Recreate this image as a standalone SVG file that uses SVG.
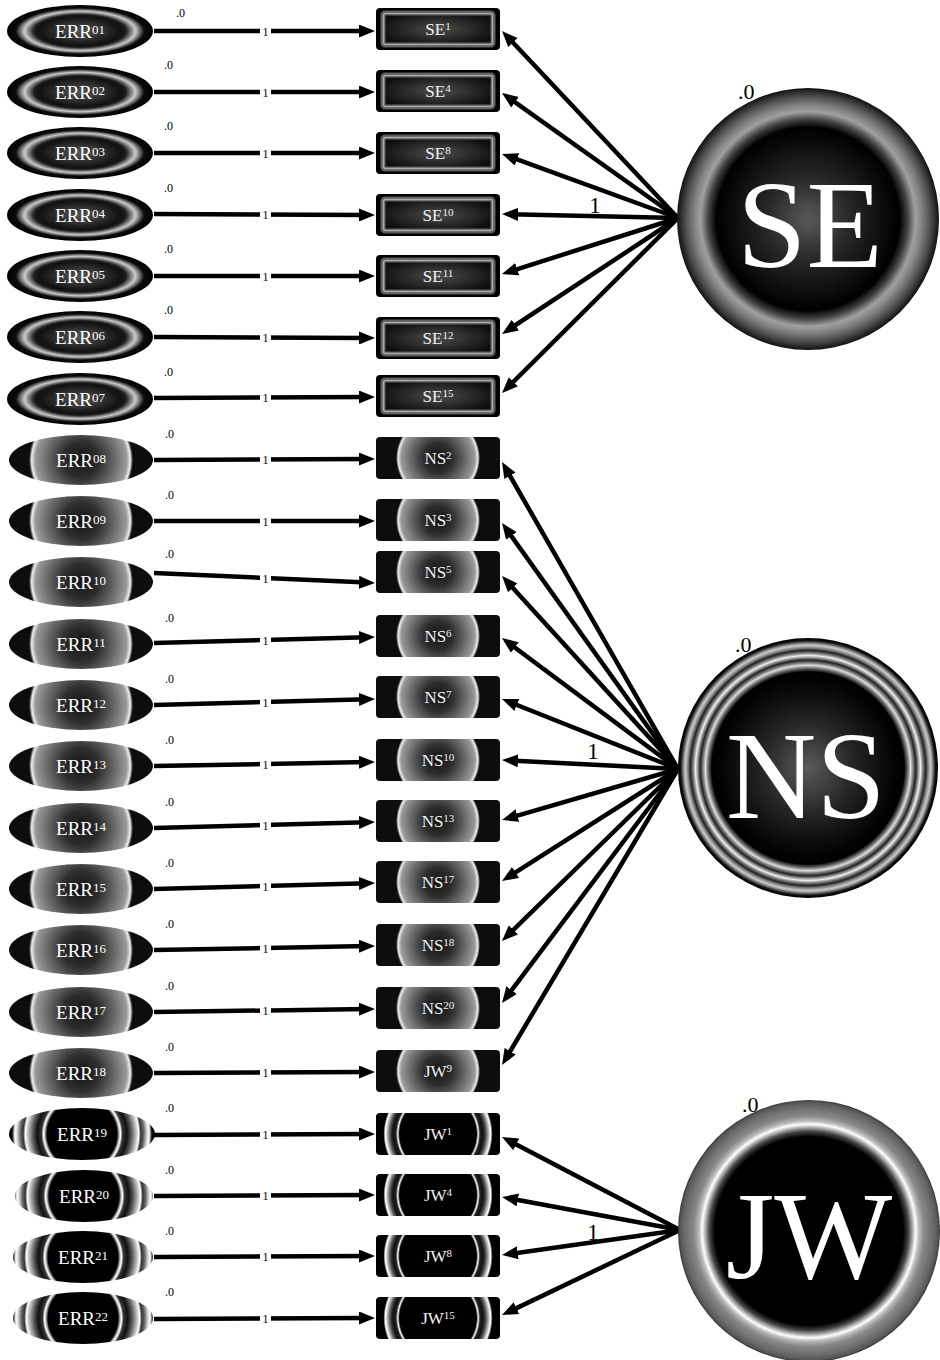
<svg xmlns="http://www.w3.org/2000/svg" xmlns:xlink="http://www.w3.org/1999/xlink" width="940" height="1360" viewBox="0 0 940 1360">
  <style>
    text { font-family: "Liberation Serif", "Times New Roman", serif; }
    .err { font-size: 19px; fill: #ffffff; text-anchor: middle; }
    .lbl { font-size: 17px; fill: #f2f2f2; text-anchor: middle; }
    .sup { font-size: 13px; }
    .sup2 { font-size: 11px; }
    .mean { font-size: 12px; fill: #000; }
    .bigmean { font-size: 22px; fill: #000; }
    .latent { font-size: 125px; fill: #ffffff; text-anchor: middle; }
    .path { fill: none; stroke: #000; stroke-width: 4.5; marker-end: url(#arrow); }
    .gap { fill: #ffffff; }
    .one { font-size: 13px; fill: #111; text-anchor: middle; }
    .bigone { font-size: 23px; fill: #000; text-anchor: middle; }
  </style>
  <defs>
    <marker id="arrow" viewBox="0 0 16 13" refX="8" refY="6.5" markerWidth="16" markerHeight="13" markerUnits="userSpaceOnUse" orient="auto">
      <path d="M0,0 L16,6.5 L0,13 z" fill="#000"/>
    </marker>

    <!-- SE indicators: elliptical ring -->
    <radialGradient id="gErrSE" cx="0.5" cy="0.5" r="0.5">
      <stop offset="0" stop-color="#555"/>
      <stop offset="0.3" stop-color="#333"/>
      <stop offset="0.56" stop-color="#111"/>
      <stop offset="0.63" stop-color="#1c1c1c"/>
      <stop offset="0.71" stop-color="#8a8a8a"/>
      <stop offset="0.76" stop-color="#cacaca"/>
      <stop offset="0.82" stop-color="#707070"/>
      <stop offset="0.88" stop-color="#0c0c0c"/>
      <stop offset="1" stop-color="#000"/>
    </radialGradient>
    <radialGradient id="gBoxSE" cx="0.5" cy="0.5" r="0.55">
      <stop offset="0" stop-color="#4c4c4c"/>
      <stop offset="1" stop-color="#0e0e0e"/>
    </radialGradient>

    <!-- NS indicators: round lens -->
    <radialGradient id="gErrNS" gradientUnits="userSpaceOnUse" cx="0" cy="0" r="52">
      <stop offset="0" stop-color="#141414"/>
      <stop offset="0.35" stop-color="#2e2e2e"/>
      <stop offset="0.65" stop-color="#6a6a6a"/>
      <stop offset="0.88" stop-color="#9a9a9a"/>
      <stop offset="0.95" stop-color="#eeeeee"/>
      <stop offset="0.975" stop-color="#777"/>
      <stop offset="1" stop-color="#0d0d0d"/>
    </radialGradient>
    <radialGradient id="gBoxNS" gradientUnits="userSpaceOnUse" cx="0" cy="0" r="42">
      <stop offset="0" stop-color="#141414"/>
      <stop offset="0.35" stop-color="#2e2e2e"/>
      <stop offset="0.65" stop-color="#6a6a6a"/>
      <stop offset="0.88" stop-color="#9a9a9a"/>
      <stop offset="0.95" stop-color="#eeeeee"/>
      <stop offset="0.975" stop-color="#777"/>
      <stop offset="1" stop-color="#0d0d0d"/>
    </radialGradient>

    <!-- JW indicators: concentric rings -->
    <radialGradient id="gErrJW" gradientUnits="userSpaceOnUse" cx="0" cy="0" r="70">
      <stop offset="0" stop-color="#000"/>
      <stop offset="0.5" stop-color="#000"/>
      <stop offset="0.53" stop-color="#bbb"/>
      <stop offset="0.55" stop-color="#fff"/>
      <stop offset="0.58" stop-color="#333"/>
      <stop offset="0.64" stop-color="#111"/>
      <stop offset="0.7" stop-color="#555"/>
      <stop offset="0.78" stop-color="#ccc"/>
      <stop offset="0.81" stop-color="#fff"/>
      <stop offset="0.84" stop-color="#333"/>
      <stop offset="0.88" stop-color="#666"/>
      <stop offset="0.93" stop-color="#ddd"/>
      <stop offset="0.96" stop-color="#fff"/>
      <stop offset="1" stop-color="#000"/>
    </radialGradient>
    <radialGradient id="gBoxJW" gradientUnits="userSpaceOnUse" cx="0" cy="0" r="60">
      <stop offset="0" stop-color="#000"/>
      <stop offset="0.64" stop-color="#000"/>
      <stop offset="0.67" stop-color="#fff"/>
      <stop offset="0.7" stop-color="#222"/>
      <stop offset="0.75" stop-color="#111"/>
      <stop offset="0.8" stop-color="#555"/>
      <stop offset="0.86" stop-color="#ddd"/>
      <stop offset="0.88" stop-color="#fff"/>
      <stop offset="0.91" stop-color="#000"/>
      <stop offset="1" stop-color="#000"/>
    </radialGradient>

    <!-- latent factors -->
    <radialGradient id="gSE" cx="0.5" cy="0.5" r="0.5">
      <stop offset="0" stop-color="#5a5a5a"/>
      <stop offset="0.3" stop-color="#2a2a2a"/>
      <stop offset="0.6" stop-color="#0a0a0a"/>
      <stop offset="0.7" stop-color="#000"/>
      <stop offset="0.76" stop-color="#404040"/>
      <stop offset="0.82" stop-color="#a0a0a0"/>
      <stop offset="0.87" stop-color="#828282"/>
      <stop offset="0.94" stop-color="#4a4a4a"/>
      <stop offset="1" stop-color="#111"/>
    </radialGradient>
    <radialGradient id="gNS" cx="0.5" cy="0.5" r="0.5">
      <stop offset="0" stop-color="#5a5a5a"/>
      <stop offset="0.35" stop-color="#262626"/>
      <stop offset="0.65" stop-color="#050505"/>
      <stop offset="0.74" stop-color="#000"/>
      <stop offset="0.77" stop-color="#777"/>
      <stop offset="0.79" stop-color="#ddd"/>
      <stop offset="0.81" stop-color="#777"/>
      <stop offset="0.83" stop-color="#222"/>
      <stop offset="0.85" stop-color="#999"/>
      <stop offset="0.865" stop-color="#eee"/>
      <stop offset="0.885" stop-color="#777"/>
      <stop offset="0.905" stop-color="#222"/>
      <stop offset="0.925" stop-color="#888"/>
      <stop offset="0.945" stop-color="#ccc"/>
      <stop offset="0.965" stop-color="#666"/>
      <stop offset="0.98" stop-color="#111"/>
      <stop offset="1" stop-color="#000"/>
    </radialGradient>
    <radialGradient id="gJW" cx="0.5" cy="0.5" r="0.5">
      <stop offset="0" stop-color="#000"/>
      <stop offset="0.72" stop-color="#000"/>
      <stop offset="0.76" stop-color="#444"/>
      <stop offset="0.8" stop-color="#ccc"/>
      <stop offset="0.815" stop-color="#fff"/>
      <stop offset="0.84" stop-color="#bbb"/>
      <stop offset="0.88" stop-color="#888"/>
      <stop offset="0.95" stop-color="#6a6a6a"/>
      <stop offset="0.985" stop-color="#555"/>
      <stop offset="1" stop-color="#333"/>
    </radialGradient>

    <!-- reusable node bodies, drawn around (0,0) -->
    <ellipse id="errSE" rx="73" ry="26" fill="url(#gErrSE)"/>
    <ellipse id="errNS" rx="72" ry="25" fill="url(#gErrNS)"/>
    <g id="boxSE">
      <rect x="-62" y="-21" width="124" height="42" rx="4" fill="#000"/>
      <rect x="-55" y="-16" width="110" height="32" rx="2" fill="url(#gBoxSE)" stroke="#5e5e5e" stroke-width="5"/>
      <rect x="-54.5" y="-15.5" width="109" height="31" rx="2" fill="none" stroke="#a8a8a8" stroke-width="1.6"/>
    </g>
    <rect id="boxNS" x="-62" y="-21" width="124" height="42" rx="4" fill="url(#gBoxNS)"/>
    <rect id="boxJW" x="-62" y="-21" width="124" height="42" rx="4" fill="url(#gBoxJW)"/>
  </defs>

  <rect width="940" height="1360" fill="#ffffff"/>

  <!-- paths: error terms to indicators, factors to indicators -->
  <g id="connectors">
    <path class="path" d="M154,31 L367,31"/>
    <path class="path" d="M154,92 L367,92"/>
    <path class="path" d="M154,153 L367,153"/>
    <path class="path" d="M154,214 L367,215"/>
    <path class="path" d="M154,276 L367,276"/>
    <path class="path" d="M154,337 L367,338"/>
    <path class="path" d="M154,398 L367,397"/>
    <path class="path" d="M154,460 L367,459"/>
    <path class="path" d="M154,521 L367,521"/>
    <path class="path" d="M154,573 L367,582.6"/>
    <path class="path" d="M154,643 L367,637.2"/>
    <path class="path" d="M154,705 L367,699.2"/>
    <path class="path" d="M154,766 L367,762.1"/>
    <path class="path" d="M154,828 L367,822.2"/>
    <path class="path" d="M154,889 L367,883.2"/>
    <path class="path" d="M154,950 L367,946.1"/>
    <path class="path" d="M154,1012 L367,1009.1"/>
    <path class="path" d="M154,1073 L367,1072"/>
    <path class="path" d="M154,1135 L367,1134"/>
    <path class="path" d="M154,1196 L367,1195"/>
    <path class="path" d="M154,1257 L367,1256"/>
    <path class="path" d="M154,1319 L367,1318"/>

    <g id="fixed-ones">
      <rect class="gap" x="260" y="24" width="11" height="14"/><text class="one" x="265.5" y="35.5">1</text>
      <rect class="gap" x="260" y="85" width="11" height="14"/><text class="one" x="265.5" y="96.5">1</text>
      <rect class="gap" x="260" y="146" width="11" height="14"/><text class="one" x="265.5" y="157.5">1</text>
      <rect class="gap" x="260" y="207.5" width="11" height="14"/><text class="one" x="265.5" y="219">1</text>
      <rect class="gap" x="260" y="269" width="11" height="14"/><text class="one" x="265.5" y="280.5">1</text>
      <rect class="gap" x="260" y="330.5" width="11" height="14"/><text class="one" x="265.5" y="342">1</text>
      <rect class="gap" x="260" y="390.5" width="11" height="14"/><text class="one" x="265.5" y="402">1</text>
      <rect class="gap" x="260" y="452.5" width="11" height="14"/><text class="one" x="265.5" y="464">1</text>
      <rect class="gap" x="260" y="514" width="11" height="14"/><text class="one" x="265.5" y="525.5">1</text>
      <rect class="gap" x="260" y="571" width="11" height="14"/><text class="one" x="265.5" y="582.5">1</text>
      <rect class="gap" x="260" y="633" width="11" height="14"/><text class="one" x="265.5" y="644.5">1</text>
      <rect class="gap" x="260" y="695" width="11" height="14"/><text class="one" x="265.5" y="706.5">1</text>
      <rect class="gap" x="260" y="757" width="11" height="14"/><text class="one" x="265.5" y="768.5">1</text>
      <rect class="gap" x="260" y="818" width="11" height="14"/><text class="one" x="265.5" y="829.5">1</text>
      <rect class="gap" x="260" y="879" width="11" height="14"/><text class="one" x="265.5" y="890.5">1</text>
      <rect class="gap" x="260" y="941" width="11" height="14"/><text class="one" x="265.5" y="952.5">1</text>
      <rect class="gap" x="260" y="1003.5" width="11" height="14"/><text class="one" x="265.5" y="1015">1</text>
      <rect class="gap" x="260" y="1065.5" width="11" height="14"/><text class="one" x="265.5" y="1077">1</text>
      <rect class="gap" x="260" y="1127.5" width="11" height="14"/><text class="one" x="265.5" y="1139">1</text>
      <rect class="gap" x="260" y="1188.5" width="11" height="14"/><text class="one" x="265.5" y="1200">1</text>
      <rect class="gap" x="260" y="1249.5" width="11" height="14"/><text class="one" x="265.5" y="1261">1</text>
      <rect class="gap" x="260" y="1311.5" width="11" height="14"/><text class="one" x="265.5" y="1323">1</text>
    </g>

    <!-- SE loadings -->
    <path class="path" d="M678,218 L507.5,36.8"/>
    <path class="path" d="M678,218 L508.5,97.6"/>
    <path class="path" d="M678,218 L509.5,156.7"/>
    <path class="path" d="M678,218 L510,214.2"/>
    <path class="path" d="M678,218 L509.6,271.6"/>
    <path class="path" d="M678,218 L508.7,329.6"/>
    <path class="path" d="M678,218 L507.7,387.4"/>
    <text class="bigone" x="595" y="213">1</text>

    <!-- NS loadings -->
    <path class="path" d="M678,769 L506,468.9"/>
    <path class="path" d="M678,769 L506.7,529.5"/>
    <path class="path" d="M678,769 L507.4,581.9"/>
    <path class="path" d="M678,769 L508.4,642.8"/>
    <path class="path" d="M678,769 L509.4,702"/>
    <path class="path" d="M678,769 L510,760.4"/>
    <path class="path" d="M678,769 L509.7,817.8"/>
    <path class="path" d="M678,769 L508.8,876.7"/>
    <path class="path" d="M678,769 L507.7,935.4"/>
    <path class="path" d="M678,769 L506.8,996.6"/>
    <path class="path" d="M678,769 L506.1,1058.1"/>
    <text class="bigone" x="593" y="759">1</text>

    <!-- JW loadings -->
    <path class="path" d="M680,1230 L509.1,1140.7"/>
    <path class="path" d="M680,1230 L509.9,1198.5"/>
    <path class="path" d="M680,1230 L509.9,1253.9"/>
    <path class="path" d="M680,1230 L509.2,1311.6"/>
    <text class="bigone" x="593" y="1240">1</text>
  </g>

  <!-- error terms -->
  <g id="ERR01" transform="translate(80,31)"><use href="#errSE"/><text class="err" y="7">ERR<tspan class="sup" dy="-4">01</tspan></text><text class="mean" x="96" y="-14">.0</text></g>
  <g id="ERR02" transform="translate(80,92)"><use href="#errSE"/><text class="err" y="7">ERR<tspan class="sup" dy="-4">02</tspan></text><text class="mean" x="84" y="-23">.0</text></g>
  <g id="ERR03" transform="translate(80,153)"><use href="#errSE"/><text class="err" y="7">ERR<tspan class="sup" dy="-4">03</tspan></text><text class="mean" x="84" y="-23">.0</text></g>
  <g id="ERR04" transform="translate(80,215)"><use href="#errSE"/><text class="err" y="7">ERR<tspan class="sup" dy="-4">04</tspan></text><text class="mean" x="84" y="-23">.0</text></g>
  <g id="ERR05" transform="translate(80,276)"><use href="#errSE"/><text class="err" y="7">ERR<tspan class="sup" dy="-4">05</tspan></text><text class="mean" x="84" y="-23">.0</text></g>
  <g id="ERR06" transform="translate(80,337)"><use href="#errSE"/><text class="err" y="7">ERR<tspan class="sup" dy="-4">06</tspan></text><text class="mean" x="84" y="-23">.0</text></g>
  <g id="ERR07" transform="translate(80,399)"><use href="#errSE"/><text class="err" y="7">ERR<tspan class="sup" dy="-4">07</tspan></text><text class="mean" x="84" y="-23">.0</text></g>

  <g id="ERR08" transform="translate(81,460)"><use href="#errNS"/><text class="err" y="7">ERR<tspan class="sup" dy="-4">08</tspan></text><text class="mean" x="84" y="-22">.0</text></g>
  <g id="ERR09" transform="translate(81,521)"><use href="#errNS"/><text class="err" y="7">ERR<tspan class="sup" dy="-4">09</tspan></text><text class="mean" x="84" y="-22">.0</text></g>
  <g id="ERR10" transform="translate(81,582)"><use href="#errNS"/><text class="err" y="7">ERR<tspan class="sup" dy="-4">10</tspan></text><text class="mean" x="84" y="-24">.0</text></g>
  <g id="ERR11" transform="translate(81,644)"><use href="#errNS"/><text class="err" y="7">ERR<tspan class="sup" dy="-4">11</tspan></text><text class="mean" x="84" y="-22">.0</text></g>
  <g id="ERR12" transform="translate(81,705)"><use href="#errNS"/><text class="err" y="7">ERR<tspan class="sup" dy="-4">12</tspan></text><text class="mean" x="84" y="-22">.0</text></g>
  <g id="ERR13" transform="translate(81,766)"><use href="#errNS"/><text class="err" y="7">ERR<tspan class="sup" dy="-4">13</tspan></text><text class="mean" x="84" y="-22">.0</text></g>
  <g id="ERR14" transform="translate(81,828)"><use href="#errNS"/><text class="err" y="7">ERR<tspan class="sup" dy="-4">14</tspan></text><text class="mean" x="84" y="-22">.0</text></g>
  <g id="ERR15" transform="translate(81,889)"><use href="#errNS"/><text class="err" y="7">ERR<tspan class="sup" dy="-4">15</tspan></text><text class="mean" x="84" y="-22">.0</text></g>
  <g id="ERR16" transform="translate(81,950)"><use href="#errNS"/><text class="err" y="7">ERR<tspan class="sup" dy="-4">16</tspan></text><text class="mean" x="84" y="-22">.0</text></g>
  <g id="ERR17" transform="translate(81,1012)"><use href="#errNS"/><text class="err" y="7">ERR<tspan class="sup" dy="-4">17</tspan></text><text class="mean" x="84" y="-22">.0</text></g>
  <g id="ERR18" transform="translate(81,1073)"><use href="#errNS"/><text class="err" y="7">ERR<tspan class="sup" dy="-4">18</tspan></text><text class="mean" x="84" y="-22">.0</text></g>

  <g id="ERR19" transform="translate(82,1134)"><ellipse rx="73" ry="26" fill="url(#gErrJW)"/><text class="err" y="7">ERR<tspan class="sup" dy="-4">19</tspan></text><text class="mean" x="83" y="-22">.0</text></g>
  <g id="ERR20" transform="translate(84,1196)"><ellipse rx="69" ry="26" fill="url(#gErrJW)"/><text class="err" y="7">ERR<tspan class="sup" dy="-4">20</tspan></text><text class="mean" x="81" y="-22">.0</text></g>
  <g id="ERR21" transform="translate(83,1257)"><ellipse rx="70" ry="26" fill="url(#gErrJW)"/><text class="err" y="7">ERR<tspan class="sup" dy="-4">21</tspan></text><text class="mean" x="82" y="-22">.0</text></g>
  <g id="ERR22" transform="translate(83,1318)"><ellipse rx="70" ry="26" fill="url(#gErrJW)"/><text class="err" y="7">ERR<tspan class="sup" dy="-4">22</tspan></text><text class="mean" x="82" y="-22">.0</text></g>

  <!-- observed indicators -->
  <g id="SE1" transform="translate(438,29)"><use href="#boxSE"/><text class="lbl" y="6">SE<tspan class="sup2" dy="-5">1</tspan></text></g>
  <g id="SE4" transform="translate(438,91)"><use href="#boxSE"/><text class="lbl" y="6">SE<tspan class="sup2" dy="-5">4</tspan></text></g>
  <g id="SE8" transform="translate(438,153)"><use href="#boxSE"/><text class="lbl" y="6">SE<tspan class="sup2" dy="-5">8</tspan></text></g>
  <g id="SE10" transform="translate(438,215)"><use href="#boxSE"/><text class="lbl" y="6">SE<tspan class="sup2" dy="-5">10</tspan></text></g>
  <g id="SE11" transform="translate(438,276)"><use href="#boxSE"/><text class="lbl" y="6">SE<tspan class="sup2" dy="-5">11</tspan></text></g>
  <g id="SE12" transform="translate(438,338)"><use href="#boxSE"/><text class="lbl" y="6">SE<tspan class="sup2" dy="-5">12</tspan></text></g>
  <g id="SE15" transform="translate(438,396)"><use href="#boxSE"/><text class="lbl" y="6">SE<tspan class="sup2" dy="-5">15</tspan></text></g>

  <g id="NS2" transform="translate(438,458)"><use href="#boxNS"/><text class="lbl" y="6">NS<tspan class="sup2" dy="-5">2</tspan></text></g>
  <g id="NS3" transform="translate(438,520)"><use href="#boxNS"/><text class="lbl" y="6">NS<tspan class="sup2" dy="-5">3</tspan></text></g>
  <g id="NS5" transform="translate(438,572)"><use href="#boxNS"/><text class="lbl" y="6">NS<tspan class="sup2" dy="-5">5</tspan></text></g>
  <g id="NS6" transform="translate(438,636)"><use href="#boxNS"/><text class="lbl" y="6">NS<tspan class="sup2" dy="-5">6</tspan></text></g>
  <g id="NS7" transform="translate(438,697)"><use href="#boxNS"/><text class="lbl" y="6">NS<tspan class="sup2" dy="-5">7</tspan></text></g>
  <g id="NS10" transform="translate(438,760)"><use href="#boxNS"/><text class="lbl" y="6">NS<tspan class="sup2" dy="-5">10</tspan></text></g>
  <g id="NS13" transform="translate(438,821)"><use href="#boxNS"/><text class="lbl" y="6">NS<tspan class="sup2" dy="-5">13</tspan></text></g>
  <g id="NS17" transform="translate(438,882)"><use href="#boxNS"/><text class="lbl" y="6">NS<tspan class="sup2" dy="-5">17</tspan></text></g>
  <g id="NS18" transform="translate(438,945)"><use href="#boxNS"/><text class="lbl" y="6">NS<tspan class="sup2" dy="-5">18</tspan></text></g>
  <g id="NS20" transform="translate(438,1008)"><use href="#boxNS"/><text class="lbl" y="6">NS<tspan class="sup2" dy="-5">20</tspan></text></g>
  <g id="JW9" transform="translate(438,1071)"><use href="#boxNS"/><text class="lbl" y="6">JW<tspan class="sup2" dy="-5">9</tspan></text></g>

  <g id="JW1" transform="translate(438,1134)"><use href="#boxJW"/><text class="lbl" y="6">JW<tspan class="sup2" dy="-5">1</tspan></text></g>
  <g id="JW4" transform="translate(438,1195)"><use href="#boxJW"/><text class="lbl" y="6">JW<tspan class="sup2" dy="-5">4</tspan></text></g>
  <g id="JW8" transform="translate(438,1256)"><use href="#boxJW"/><text class="lbl" y="6">JW<tspan class="sup2" dy="-5">8</tspan></text></g>
  <g id="JW15" transform="translate(438,1318)"><use href="#boxJW"/><text class="lbl" y="6">JW<tspan class="sup2" dy="-5">15</tspan></text></g>

  <!-- latent factors -->
  <g id="SE">
    <circle cx="808" cy="219" r="131" fill="url(#gSE)"/>
    <text class="latent" x="810" y="267">SE</text>
    <text class="bigmean" x="738" y="99">.0</text>
  </g>
  <g id="NS">
    <circle cx="808" cy="768" r="130" fill="url(#gNS)"/>
    <text class="latent" x="806" y="818">NS</text>
    <text class="bigmean" x="735" y="652">.0</text>
  </g>
  <g id="JW">
    <circle cx="809" cy="1231" r="131" fill="url(#gJW)"/>
    <text class="latent" x="809" y="1278">JW</text>
    <text class="bigmean" x="742" y="1112">.0</text>
  </g>
</svg>
